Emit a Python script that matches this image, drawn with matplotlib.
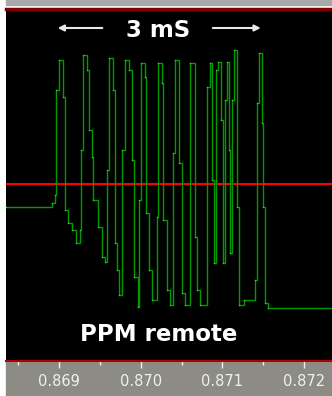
import numpy as np
import matplotlib
matplotlib.use("Agg")
import matplotlib.pyplot as plt
from matplotlib.patches import Rectangle

# scope trace, step vertices (time in s, level in V)
t = [0.868351, 0.868914, 0.868951, 0.868963, 0.869000, 0.869049, 0.869073,
     0.869110, 0.869159, 0.869208, 0.869257, 0.869269, 0.869294, 0.869343,
     0.869367, 0.869404, 0.869416, 0.869477, 0.869526, 0.869563, 0.869588,
     0.869612, 0.869661, 0.869685, 0.869710, 0.869734, 0.869771, 0.869808,
     0.869857, 0.869894, 0.869918, 0.869967, 0.869979, 0.870004, 0.870053,
     0.870065, 0.870102, 0.870138, 0.870200, 0.870212, 0.870261, 0.870273,
     0.870322, 0.870359, 0.870395, 0.870420, 0.870469, 0.870506, 0.870542,
     0.870603, 0.870665, 0.870689, 0.870726, 0.870812, 0.870848, 0.870873,
     0.870897, 0.870922, 0.870946, 0.870983, 0.871007, 0.871032, 0.871056,
     0.871081, 0.871093, 0.871118, 0.871142, 0.871179, 0.871203, 0.871264,
     0.871399, 0.871424, 0.871448, 0.871485, 0.871497, 0.871521, 0.871558,
     0.872342]
v = [-0.23, -0.19, -0.11, 0.94, 1.24, 0.87, -0.26,
     -0.39, -0.46, -0.59, -0.46, 0.34, 1.29, 1.14,
     0.54, 0.27, -0.16, -0.43, -0.73, -0.78, 0.14,
     1.26, 0.94, -0.59, -0.86, -1.11, 0.34, 1.24,
     1.14, 0.24, -0.93, -1.23, -0.16, 1.21, 1.07,
     -0.29, -0.86, -1.16, -0.33, 1.21, 1.01, -0.36,
     -1.06, -1.21, 0.31, 1.24, 0.21, -1.09, -1.21,
     1.21, -0.53, -1.06, -1.21, 0.97, 1.21, 0.04,
     -0.79, 1.14, 1.22, 0.64, -0.79, 0.84, 1.22,
     0.34, -0.69, 0.84, 1.34, -0.23, -1.21, -1.16,
     -0.96, 0.81, 1.31, 0.61, -0.23, -1.19, -1.24,
     -1.24]

trigger_level = 0.0
major_ticks = [0.869, 0.870, 0.871, 0.872]
minor_ticks = [0.8685, 0.8695, 0.8705, 0.8715]

W, H = 332, 396
fig = plt.figure(figsize=(W / 100, H / 100), dpi=100, facecolor="white")

# grey bands top and bottom
fig.add_artist(Rectangle((6 / W, 0), 1, 35 / H, transform=fig.transFigure,
                         color="#8c8c84", zorder=0))
fig.add_artist(Rectangle((6 / W, 1 - 5 / H), 1, 5 / H, transform=fig.transFigure,
                         color="#a8a8a8", zorder=0))

ax = fig.add_axes([6 / W, 35 / H, 326 / W, 352 / H])
ax.set_facecolor("black")
ax.set_xlim(0.868351, 0.872342)
ax.set_ylim(-1.77, 1.75)

ax.axhline(trigger_level, color="#ff0000", lw=1.5, zorder=1)
ax.step(t, v, where="post", color="#009a00", lw=1.0, zorder=2)
ax.plot(t, v, ls="none", marker="s", ms=0.9, mew=0, color="#30e030", zorder=3)

for s in ["left", "right"]:
    ax.spines[s].set_visible(False)
ax.spines["top"].set_color("#800000")
ax.spines["top"].set_linewidth(2.5)
ax.spines["bottom"].set_color("#b00000")
ax.spines["bottom"].set_linewidth(1.5)

ax.set_yticks([])
ax.set_xticks(major_ticks)
ax.set_xticklabels([f"{x:.3f}" for x in major_ticks])
ax.set_xticks(minor_ticks, minor=True)
ax.tick_params(axis="x", which="major", length=5, width=1, color="#f0f0f0",
               labelcolor="#f0f0f0", labelsize=10.5, pad=4)
ax.tick_params(axis="x", which="minor", length=3, width=1, color="#f0f0f0")

ax.text(0.466, 0.94, "3 mS", transform=ax.transAxes, ha="center", va="center",
        color="white", fontsize=16.5, fontweight="bold")
ax.annotate("", xy=(0.150, 0.946), xytext=(0.304, 0.946), xycoords="axes fraction",
            arrowprops=dict(arrowstyle="-|>", color="#e8e8e8", lw=1.5, mutation_scale=9))
ax.annotate("", xy=(0.790, 0.946), xytext=(0.626, 0.946), xycoords="axes fraction",
            arrowprops=dict(arrowstyle="-|>", color="#e8e8e8", lw=1.5, mutation_scale=9))

ax.text(0.468, 0.074, "PPM remote", transform=ax.transAxes, ha="center", va="center",
        color="white", fontsize=16.5, fontweight="bold")

fig.savefig("out.png", dpi=100, facecolor="white")
